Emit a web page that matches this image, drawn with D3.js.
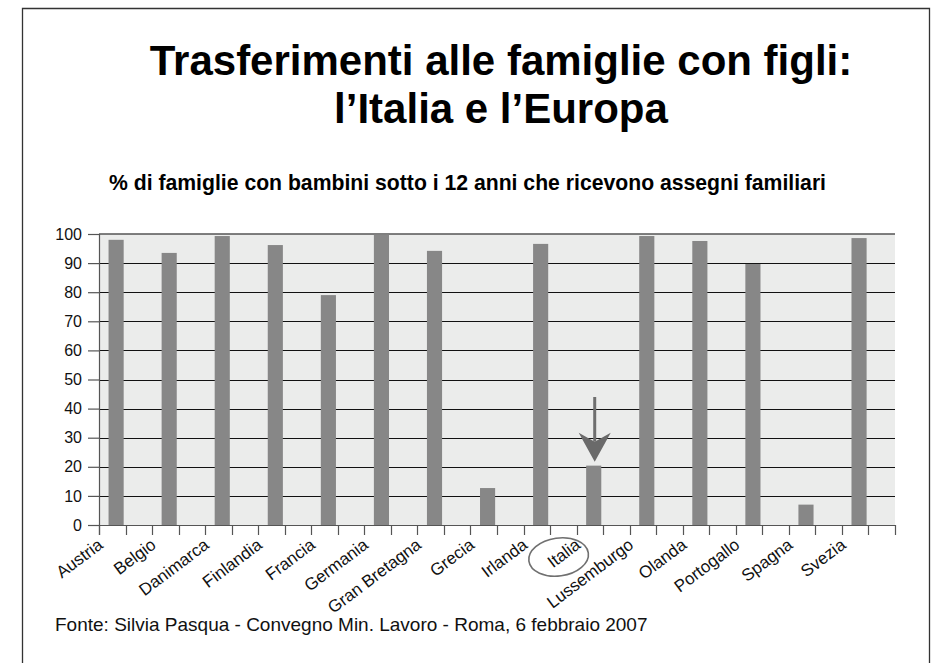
<!DOCTYPE html>
<html>
<head>
<meta charset="utf-8">
<script src="https://cdn.jsdelivr.net/npm/d3@7/dist/d3.min.js"></script>
<style>
  html, body { margin: 0; padding: 0; background: #ffffff; }
  svg { display: block; font-family: "Liberation Sans", Arial, Helvetica, sans-serif; }
</style>
</head>
<body>
<svg id="chart" width="937" height="663"></svg>
<script>
const titleLines = ["Trasferimenti alle famiglie con figli:", "l\u2019Italia e l\u2019Europa"];
const subtitle = "% di famiglie con bambini sotto i 12 anni che ricevono assegni familiari";
const source = "Fonte: Silvia Pasqua - Convegno Min. Lavoro - Roma, 6 febbraio 2007";
const countries = ["Austria", "Belgio", "Danimarca", "Finlandia", "Francia", "Germania", "Gran Bretagna",
  "Grecia", "Irlanda", "Italia", "Lussemburgo", "Olanda", "Portogallo", "Spagna", "Svezia"];
const values = [98, 93.5, 99.3, 96.2, 79, 99.8, 94.2, 12.7, 96.6, 20.4, 99.3, 97.6, 89.7, 7, 98.6];
const yTicks = [0, 10, 20, 30, 40, 50, 60, 70, 80, 90, 100];
const highlight = "Italia";

const svg = d3.select("#chart");
const W = 937, H = 663;
const plot = { left: 99, right: 895, top: 234, bottom: 525 };

// frame
svg.append("path")
  .attr("d", `M22.5,${H + 2} L22.5,8.5 L929.5,8.5 L929.5,${H + 2}`)
  .attr("fill", "none").attr("stroke", "#333").attr("stroke-width", 1.3);

// titles
const tx = 501;
svg.append("text").attr("x", tx).attr("y", 75).attr("text-anchor", "middle")
  .attr("font-size", 42).attr("font-weight", "bold").attr("fill", "#000").text(titleLines[0]);
svg.append("text").attr("x", tx).attr("y", 123).attr("text-anchor", "middle")
  .attr("font-size", 42).attr("font-weight", "bold").attr("fill", "#000").text(titleLines[1]);
svg.append("text").attr("x", 467.5).attr("y", 190).attr("text-anchor", "middle")
  .attr("font-size", 21.2).attr("font-weight", "bold").attr("fill", "#000").text(subtitle);

// scales
const x = d3.scaleBand().domain(countries).range([plot.left, plot.right]).padding(0);
const y = d3.scaleLinear().domain([0, 100]).range([plot.bottom, plot.top]);
const bw = x.bandwidth();

// plot background
svg.append("rect").attr("x", plot.left).attr("y", plot.top)
  .attr("width", plot.right - plot.left).attr("height", plot.bottom - plot.top)
  .attr("fill", "#ebeceb");

// gridlines
svg.append("g").selectAll("line").data(yTicks.filter(d => d > 0 && d < 100)).join("line")
  .attr("x1", plot.left).attr("x2", plot.right)
  .attr("y1", d => Math.round(y(d)) + 0.5).attr("y2", d => Math.round(y(d)) + 0.5)
  .attr("stroke", "#111").attr("stroke-width", 1.1);
svg.append("line").attr("x1", plot.left).attr("x2", plot.right)
  .attr("y1", y(100)).attr("y2", y(100)).attr("stroke", "#555").attr("stroke-width", 1.6);

// bars
svg.append("g").selectAll("rect").data(countries).join("rect")
  .attr("x", d => x(d) + bw * 0.18)
  .attr("width", bw * 0.285)
  .attr("y", (d, i) => y(values[i]))
  .attr("height", (d, i) => y(0) - y(values[i]))
  .attr("fill", "#878787");

// y axis
const yAxis = d3.axisLeft(y).tickValues(yTicks).tickSize(11).tickPadding(6);
const gy = svg.append("g").attr("transform", `translate(${plot.left},0)`).call(yAxis);
gy.select(".domain").attr("stroke", "#555").attr("stroke-width", 1.2)
  .attr("d", `M0.5,${plot.top}V${plot.bottom + 10}`);
gy.selectAll(".tick line").attr("stroke", "#555").attr("stroke-width", 1.2);
gy.selectAll(".tick text").attr("font-size", 16).attr("fill", "#111")
  .attr("font-family", "Liberation Sans, Arial, sans-serif");

// x axis baseline + ticks at half-band spacing
svg.append("line").attr("x1", plot.left).attr("x2", plot.right)
  .attr("y1", y(0) + 0.5).attr("y2", y(0) + 0.5).attr("stroke", "#555").attr("stroke-width", 1.2);
const tickPos = [];
countries.forEach(c => { tickPos.push(x(c)); tickPos.push(x(c) + bw / 2); });
tickPos.push(plot.right);
svg.append("g").selectAll("line").data(tickPos).join("line")
  .attr("x1", d => Math.round(d) + 0.5).attr("x2", d => Math.round(d) + 0.5)
  .attr("y1", y(0)).attr("y2", y(0) + 10)
  .attr("stroke", "#555").attr("stroke-width", 1.2);

// x labels rotated
svg.append("g").selectAll("text").data(countries).join("text")
  .attr("transform", d => `translate(${x(d) + 5},${y(0) + 22}) rotate(-37)`)
  .attr("text-anchor", "end")
  .attr("font-size", 17).attr("fill", "#111")
  .text(d => d);

// highlight ellipse around Italia label
const hx = x(highlight);
svg.append("ellipse")
  .attr("cx", hx - 18).attr("cy", y(0) + 32)
  .attr("rx", 30).attr("ry", 19)
  .attr("transform", `rotate(-8,${hx - 18},${y(0) + 32})`)
  .attr("fill", "none").attr("stroke", "#707070").attr("stroke-width", 1.6);

// arrow pointing to Italia bar
const ax = hx + bw * 0.18 + bw * 0.285 / 2 + 1;
const iv = values[countries.indexOf(highlight)];
const tipY = y(iv) - 4;
svg.append("line").attr("x1", ax).attr("x2", ax).attr("y1", 397).attr("y2", tipY - 20)
  .attr("stroke", "#6e6e6e").attr("stroke-width", 3);
svg.append("path")
  .attr("d", `M${ax},${tipY} L${ax - 16},${tipY - 29} L${ax},${tipY - 20} L${ax + 16},${tipY - 29} Z`)
  .attr("fill", "#6a6a6a");

// source
svg.append("text").attr("x", 55).attr("y", 631)
  .attr("font-size", 19).attr("fill", "#111").text(source);
</script>
</body>
</html>
